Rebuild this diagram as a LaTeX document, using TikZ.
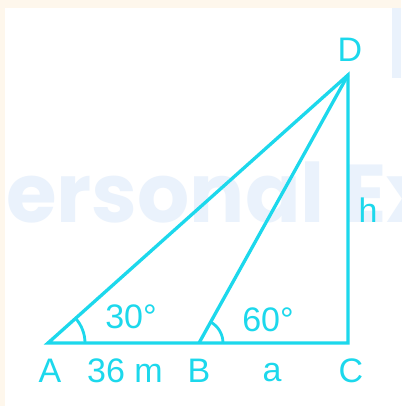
\documentclass[tikz,border=0pt]{standalone}
\usepackage{fontspec}
\usetikzlibrary{calc}
\setmainfont{Liberation Sans}
\newfontfamily\wmfont{Poppins}
\definecolor{cream}{HTML}{FEF7EC}
\definecolor{wm}{HTML}{EAF2FC}
\definecolor{cy}{HTML}{1CD8EC}
\begin{document}
\begin{tikzpicture}[x=1pt,y=-1pt,
  seg/.style={draw=cy,line width=3.3pt,line join=miter},
  lbl/.style={text=cy,font=\fontsize{34}{34}\selectfont,anchor=base,inner sep=0pt},
  angarc/.style={draw=cy,line width=2.8pt}]
\useasboundingbox (0,0) rectangle (401,406);
\fill[cream] (0,0) rectangle (401,406);
\fill[white] (5,8) rectangle (401,406);
\fill[wm] (392,8) rectangle (401,78);
\node[anchor=base west,inner sep=0pt,text=wm,font=\wmfont\bfseries\fontsize{82}{82}\selectfont] (wmk) at (6,222) {ersonal Ex};
\coordinate (A) at (48,343);
\coordinate (B) at (199,343);
\coordinate (C) at (348,343);
\coordinate (D) at (348,75);
\draw[seg] (A) -- (C) -- (D) -- cycle;
\draw[seg] (B) -- (D);
\draw[angarc] ($(A)+(37,0)$) arc[start angle=0,end angle=-41.7,radius=37];
\draw[angarc] ($(B)+(24,0)$) arc[start angle=0,end angle=-61,radius=24];
\node[lbl] (lD) at (350,62) {D};
\node[lbl] (lA) at (50,382) {A};
\node[lbl] (l36) at (125,382) {36 m};
\node[lbl] (lB) at (199,382) {B};
\node[lbl] (la) at (272,381) {a};
\node[lbl] (lC) at (351,382) {C};
\node[lbl] (lh) at (368,222) {h};
\node[lbl] (l30) at (131,328) {30°};
\node[lbl] (l60) at (268,331) {60°};
\end{tikzpicture}
\end{document}
